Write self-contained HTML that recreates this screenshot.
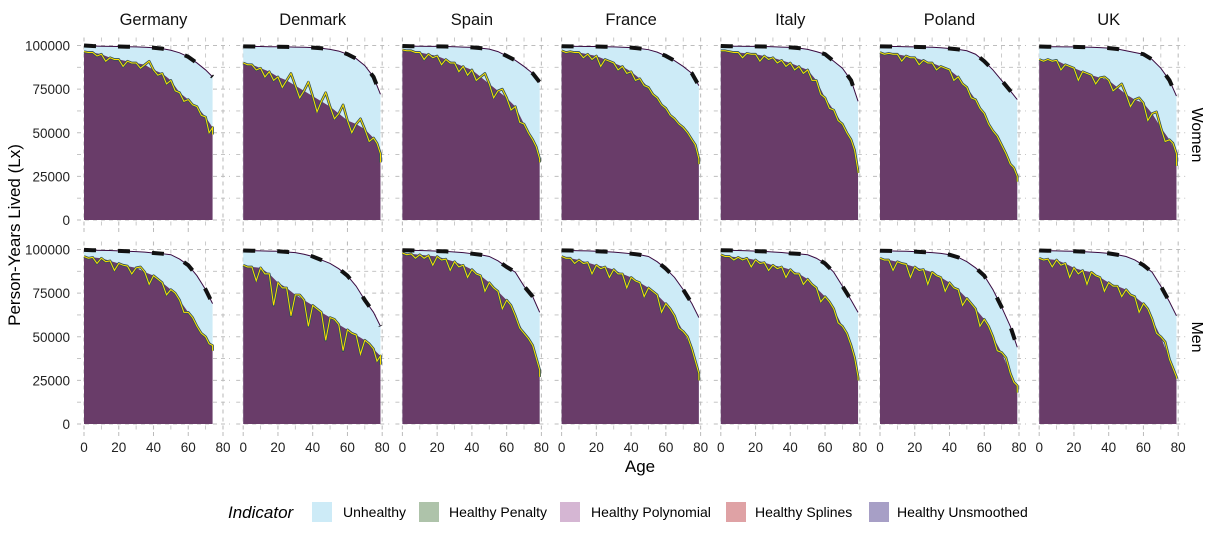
<!DOCTYPE html>
<html><head><meta charset="utf-8">
<style>
body{margin:0;background:#fff;font-family:"Liberation Sans",sans-serif;}
svg text{font-family:"Liberation Sans",sans-serif;}
</style></head>
<body>
<svg id="chart" width="1215" height="531" viewBox="0 0 1215 531" xmlns="http://www.w3.org/2000/svg">
<rect width="1215" height="531" fill="#fff"/>
<g id="panels"></g>
<text x="640" y="472" font-size="17" text-anchor="middle">Age</text>
<text transform="translate(20,235) rotate(-90)" font-size="17" text-anchor="middle">Person-Years Lived (Lx)</text>
<text transform="translate(1192,135) rotate(90)" font-size="16" text-anchor="middle">Women</text>
<text transform="translate(1192,337) rotate(90)" font-size="16" text-anchor="middle">Men</text>
<g>
<text x="228" y="518" font-size="17" font-style="italic">Indicator</text>
<rect x="312" y="502" width="20" height="20" fill="#cdebf7"/>
<text x="343" y="517" font-size="14">Unhealthy</text>
<rect x="419" y="502" width="20" height="20" fill="#aec3aa"/>
<text x="449" y="517" font-size="14">Healthy Penalty</text>
<rect x="560" y="502" width="20" height="20" fill="#d5b6d3"/>
<text x="591" y="517" font-size="14">Healthy Polynomial</text>
<rect x="726" y="502" width="20" height="20" fill="#dfa2a5"/>
<text x="755" y="517" font-size="14">Healthy Splines</text>
<rect x="869" y="502" width="20" height="20" fill="#a79fc6"/>
<text x="897" y="517" font-size="14">Healthy Unsmoothed</text>
</g>
</svg>
<script>
const countries = ["Germany","Denmark","Spain","France","Italy","Poland","UK"];
const sexes = ["Women","Men"];
const agesFull = [0,5,10,15,20,25,30,35,40,45,50,55,60,65,70,75,79];
const agesDE = [0,5,10,15,20,25,30,35,40,45,50,55,60,65,70,74];
const xTicks = [0,20,40,60,80];
const yTicks = [0,25000,50000,75000,100000];
// values in thousands of person-years
// total Lx (top of unhealthy area)
const totalW = [
 [100,99.7,99.6,99.5,99.4,99.3,99.2,99,98.7,98.2,97.3,95.8,93.5,90,86,82],
 [99.5,99.4,99.4,99.3,99.3,99.2,99.1,99,98.8,98.4,97.8,96.8,95,92.5,88.5,82,72],
 [99.7,99.6,99.6,99.5,99.5,99.4,99.3,99.1,98.9,98.5,97.9,96.5,94,91.5,88,84,79],
 [99.6,99.5,99.5,99.4,99.4,99.3,99.2,99,98.8,98.3,97.6,96.2,94,91.3,88,84,77],
 [99.7,99.6,99.6,99.5,99.5,99.4,99.3,99.1,98.9,98.5,97.8,96.5,95,91,87,80,68],
 [99.5,99.4,99.4,99.3,99.2,99.1,99,98.7,98.3,97.8,97,95,91,86,80,74,69],
 [99.4,99.3,99.3,99.2,99.2,99.1,99,98.8,98.5,98,97,96,95,92,87,80,71]
];
const healthyW = [
 [96.5,96,95,93,92,91,90,89,86,84,80,73,69,65,59,53],
 [90,89,87,85,82,80,77,74,71,68,65,61,57,55,52,47,38],
 [97.5,97,96,95,94,92,90,88,86,82,78,74,70,65,55,46,35],
 [97,96.5,96,95,94,92,90,88,85,81,76,70,64,58,53,46,35],
 [97,96.5,96,95.5,95,94,93,91.5,90,88,86,80,70,63,55,46,28],
 [96,95.5,95,94,93,91.5,90,88,86,82,76,69,61,51,43,32,25],
 [92,92,91.5,89,87,85,83,81.5,80,76,72,69,67,61,53,46,38]
];
const noisyW = [
 [96,94,91,92,88,90,87,91,83,78,74,68,66,60,50,49],
 [89,86,82,80,76,84,70,79,62,73,58,66,50,58,45,44,33],
 [97,96,92,93,89,90,85,83,80,84,70,75,63,56,50,42,33],
 [96,96,93,92,88,91,86,84,80,77,72,66,60,55,50,43,32],
 [97,96,93,95,91,92,90,88,86,84,80,72,64,57,50,40,27],
 [95,95,91,93,89,90,86,87,80,78,70,64,55,48,38,30,22],
 [91,91,86,88,80,84,78,82,74,78,65,70,57,62,45,44,31]
];
const totalM = [
 [99.8,99.6,99.5,99.4,99.2,99,98.8,98.5,98,97.6,97,94.5,91,85,77,69],
 [99.4,99.3,99.2,99.1,99,98.6,98.2,97.3,96,94,92,89,85,79,71,64,56],
 [99.6,99.5,99.4,99.3,99.1,98.9,98.6,98.2,97.6,97,96,93.5,90,87,79,73,64],
 [99.5,99.4,99.3,99.2,99,98.8,98.5,98.1,97.6,97,96,93,89,84,77,69,61],
 [99.6,99.5,99.4,99.3,99.1,98.9,98.6,98.3,97.8,97.5,97,95,92,87,79,71,64],
 [99.3,99.2,99.1,99,98.8,98.5,98.2,97.8,97,95.5,93,89.5,85,77,67,56,44],
 [99.4,99.3,99.2,99.1,99,98.8,98.5,98.2,97.8,97,96,94,91,87,79,70,62]
];
const healthyM = [
 [96,95.5,95,93.5,92,90.5,89.5,87,85,81,77,71,64,56,50,45],
 [91,90,89.5,86,81,78,74,71,68,64,61,57,54,51,48,43,39],
 [98,97.5,97,96.5,96,94.5,93,91,88.5,85,81,76,71,62,52,45,31],
 [96,95,94,92.5,91,90,88.5,86,84,81,78,74,69,62,53,43,29],
 [97,96,95.5,95,94,92.5,91,90,88.5,86,83,78,73,66,56,45,27],
 [95,94,93,91.5,90,88.5,87,84,81,77,72,66,60,50,41,29,22],
 [95,94.5,94,92,89.5,88,87,84,81,79,77,73,69,60,50,37,27]
];
const noisyM = [
 [95,92,93,88,91,86,90,80,83,74,75,64,61,52,46,42],
 [90,82,86,68,78,62,74,56,66,48,60,42,52,40,46,36,34],
 [97,95,95,91,94,88,90,84,86,76,78,66,68,55,49,38,27],
 [95,92,92,86,89,84,86,78,82,73,76,64,66,55,50,36,25],
 [96,94,94,90,92,88,89,84,86,80,80,70,70,58,52,38,25],
 [94,88,92,84,88,80,85,76,78,68,69,56,56,42,38,24,18],
 [94,90,91,84,86,80,85,76,79,73,74,64,66,52,47,32,26]
];

const NS = "http://www.w3.org/2000/svg";
const root = document.getElementById("panels");
function mk(tag, attrs, parent){const e=document.createElementNS(NS,tag);for(const k in attrs)e.setAttribute(k,attrs[k]);(parent||root).appendChild(e);return e;}

const panelStep = 159.2, x0Base = 84, pxPerYear = 1.7375;
const rowZero = [220, 424], pxPerK = 1.745;
function xScale(c, age){return x0Base + c*panelStep + age*pxPerYear;}
function yScale(r, k){return rowZero[r] - k*pxPerK;}

for (let r=0;r<2;r++){
  const totals = r===0?totalW:totalM, healthy = r===0?healthyW:healthyM, noisy = r===0?noisyW:noisyM;
  for (let c=0;c<7;c++){
    const g = mk("g",{});
    
    
    const ages = c===0?agesDE:agesFull;
    const left = xScale(c,0)-7, right = xScale(c,80)+7;
    const top = yScale(r,100)-8, bottom = yScale(r,0)+8;
    // grid
    for (let a=0;a<=80;a+=10){
      const ln = mk("line",{x1:xScale(c,a),x2:xScale(c,a),y1:top,y2:bottom,stroke:"#bdbdbd","stroke-width":a%20===0?1.1:0.8,"stroke-dasharray":"4,4"},g);
      
      
    }
    for (let v=0;v<=100;v+=12.5){
      const ln = mk("line",{x1:left,x2:right,y1:yScale(r,v),y2:yScale(r,v),stroke:"#bdbdbd","stroke-width":v%25===0?1.1:0.8,"stroke-dasharray":"4,4"},g);
      
      
    }
    const tot = totals[c], hl = healthy[c], nz = noisy[c];
    const last = ages[ages.length-1];
    // unhealthy area (total)
    let d = "M"+xScale(c,0)+","+yScale(r,0);
    ages.forEach((a,i)=>{d+=" L"+xScale(c,a)+","+yScale(r,tot[i]);});
    d+=" L"+xScale(c,last)+","+yScale(r,0)+"Z";
    const ua = mk("path",{d:d,fill:"#cdebf7"},g);
    
    
    // healthy area
    let hp = [];
    ages.forEach((a,i)=>{hp.push([xScale(c,a),yScale(r,hl[i])]);});
    let dh = "M"+xScale(c,0)+","+yScale(r,0)+" "+hp.map(p=>"L"+p[0]+","+p[1]).join(" ")+" L"+xScale(c,last)+","+yScale(r,0)+"Z";
    const ha = mk("path",{d:dh,fill:"#693c69"},g);
    
    
    // unsmoothed zigzag: alternating healthy points and noisy midpoints
    let zp = [];
    ages.forEach((a,i)=>{
      zp.push([xScale(c,a),yScale(r,hl[i])]);
      if(i<ages.length-1){const am=(a+ages[i+1])/2;zp.push([xScale(c,am),yScale(r,nz[i])]);}
      else zp.push([xScale(c,a),yScale(r,nz[i])]);
    });
    const zs = zp.map((p,i)=>(i?"L":"M")+p[0]+","+p[1]).join(" ");
    const dl = mk("path",{d:zs,fill:"none",stroke:"#2f4f55","stroke-width":2.6,"stroke-linejoin":"round"},g);
    
    
    const yl = mk("path",{d:zs,fill:"none",stroke:"#ffe000","stroke-width":1},g);
    
    
    // total line
    const ts = ages.map((a,i)=>(i?"L":"M")+xScale(c,a)+","+yScale(r,tot[i])).join(" ");
    const tl = mk("path",{d:ts,fill:"none",stroke:"#3a0a40","stroke-width":1},g);
    
    
    const tdash = mk("path",{d:ts,fill:"none",stroke:"#111","stroke-width":4,"stroke-dasharray":"12,22"},g);
    
    
    // x ticks
    xTicks.forEach(a=>{
      const t = mk("line",{x1:xScale(c,a),x2:xScale(c,a),y1:bottom,y2:bottom+4,stroke:"#bbb"},g);
      
      
      if(r===1){
        const tx = mk("text",{x:xScale(c,a),y:452,"font-size":13.5,"text-anchor":"middle",fill:"#222"},g);
        tx.textContent = a;
        
        
      }
    });
    if(r===0){
      const st = mk("text",{x:xScale(c,40),y:25,"font-size":16.5,"text-anchor":"middle",fill:"#111"},g);
      st.textContent = countries[c];
      
      
    }
    if(c===0){
      yTicks.forEach(v=>{
        const tx = mk("text",{x:70,y:yScale(r,v/1000)+5,"font-size":13.5,"text-anchor":"end",fill:"#222"},g);
        tx.textContent = v;
        
        
      });
    }
  }
}
</script>
</body></html>
